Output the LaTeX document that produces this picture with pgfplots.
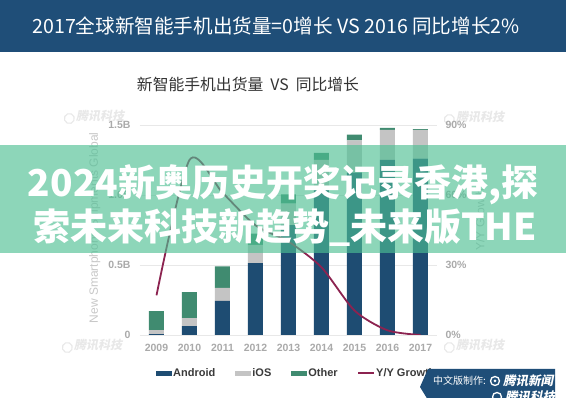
\documentclass[border=0pt]{standalone}
\usepackage{pgfplots}
\pgfplotsset{compat=1.18}
\usepackage{fontspec}
\setmainfont{Liberation Sans}
\newfontfamily\cjk{Noto Sans CJK SC}
\newfontfamily\cjksl{Noto Sans CJK SC}[FakeSlant=0.2]
\definecolor{hdr}{RGB}{31,78,120}
\definecolor{andc}{RGB}{30,76,114}
\definecolor{iosc}{RGB}{196,196,196}
\definecolor{othc}{RGB}{64,139,112}
\definecolor{linec}{RGB}{140,35,80}
\definecolor{gridc}{RGB}{232,232,232}
\definecolor{tickc}{RGB}{170,170,170}
\definecolor{labc}{RGB}{200,200,200}
\definecolor{legc}{RGB}{58,58,58}
\definecolor{bandc}{RGB}{77,192,147}
\definecolor{wmc}{RGB}{232,232,232}
\begin{document}
\begin{tikzpicture}[x=1pt,y=1pt]
\useasboundingbox (0,0) rectangle (566,398);
\fill[white] (0,0) rectangle (566,398);
\fill[hdr] (0,346) rectangle (566,398);
\node[text=white, font=\cjk\fontsize{19.6}{22}\selectfont, inner sep=0pt] at (276,372) {2017全球新智能手机出货量=0增长 VS 2016 同比增长2\%};
\node[text=black!80, font=\cjk\fontsize{15.8}{18}\selectfont, inner sep=0pt] at (248,314) {新智能手机出货量\ \ VS\ \ 同比增长};

% watermarks
\foreach \wx/\wy in {90/287, 470/286, 88/58, 470/58}{
  \begin{scope}[shift={(\wx,\wy)}, rotate=20]
    \draw[wmc, line width=1.1pt] (-22,0) circle (5);
    \node[text=wmc, font=\cjksl\bfseries\fontsize{12}{14}\selectfont, anchor=west, inner sep=0pt] at (-15,0) {腾讯科技};
  \end{scope}
}

\begin{axis}[at={(140pt,63pt)}, anchor=south west, scale only axis,
  width=297pt, height=210pt,
  xmin=-0.5, xmax=8.5, ymin=0, ymax=1.5,
  ybar stacked, bar width=15pt,
  axis line style={draw=none}, tick style={draw=none},
  ymajorgrids, grid style={draw=gridc, line width=0.8pt},
  ytick={0,0.5,1,1.5}, yticklabels={0,0.5B,1.0B,1.5B},
  xtick={0,1,2,3,4,5,6,7,8},
  xticklabels={2009,2010,2011,2012,2013,2014,2015,2016,2017},
  ticklabel style={font=\fontsize{10.5}{12}\selectfont\bfseries, text=tickc},
  yticklabel style={xshift=-6pt},
  xticklabel style={yshift=-6pt},
  ylabel={New Smartphone Shipments Global},
  every axis y label/.style={at={(axis description cs:-0.152,0.51)}, rotate=90, anchor=center, font=\fontsize{12}{14}\selectfont, text=labc},
  legend columns=-1,
  legend style={draw=none, fill=none, inner sep=0pt, at={(axis description cs:0.054,-0.181)}, anchor=west,
    font=\fontsize{11}{12}\selectfont\bfseries, text=legc,
    nodes={inner xsep=1pt},
    /tikz/every even column/.append style={column sep=19pt}},
]
\addplot[fill=andc, draw=none, legend image code/.code={\fill[andc] (0pt,-2.5pt) rectangle (16pt,2.5pt);}]
  coordinates {(0,0.007) (1,0.064) (2,0.243) (3,0.514) (4,0.785) (5,1.059) (6,1.160) (7,1.250) (8,1.260)};
\addplot[fill=iosc, draw=none, legend image code/.code={\fill[iosc] (0pt,-2.5pt) rectangle (16pt,2.5pt);}]
  coordinates {(0,0.028) (1,0.056) (2,0.093) (3,0.130) (4,0.153) (5,0.192) (6,0.231) (7,0.215) (8,0.205)};
\addplot[fill=othc, draw=none, legend image code/.code={\fill[othc] (0pt,-2.5pt) rectangle (16pt,2.5pt);}]
  coordinates {(0,0.135) (1,0.187) (2,0.154) (3,0.080) (4,0.066) (5,0.050) (6,0.040) (7,0.015) (8,0.005)};
\addlegendimage{legend image code/.code={\draw[linec, line width=1.5pt] (0pt,0pt) -- (16pt,0pt);}}
\legend{Android,iOS,Other,Y/Y Growth}
\end{axis}

\begin{axis}[at={(140pt,63pt)}, anchor=south west, scale only axis,
  width=297pt, height=210pt,
  xmin=-0.5, xmax=8.5, ymin=0, ymax=90,
  axis line style={draw=none}, tick style={draw=none},
  xtick=\empty, yticklabel pos=right,
  ytick={0,30,60,90}, yticklabels={0\%,30\%,60\%,90\%},
  ticklabel style={font=\fontsize{10.5}{12}\selectfont\bfseries, text=tickc},
  yticklabel style={xshift=5pt},
  ylabel={Y/Y Growth},
  every axis y label/.style={at={(axis description cs:1.145,0.548)}, rotate=90, anchor=center, font=\fontsize{12}{14}\selectfont, text=labc},
]
\addplot[linec, line width=1.8pt, smooth, tension=0.45]
  coordinates {(0,17) (1,75) (2,61) (3,47) (4,40) (5,29) (6,10.5) (7,2) (8,0)};
\end{axis}

% overlay band
\fill[bandc, fill opacity=0.64] (0,145) rectangle (566,253);
\node[text=white, font=\cjk\bfseries\fontsize{37}{42}\selectfont, inner sep=0pt] at (283,213) {2024新奥历史开奖记录香港,探};
\node[text=white, font=\cjk\bfseries\fontsize{37}{42}\selectfont, inner sep=0pt] at (285,170) {索未来科技新趋势\_未来版THE};

% badge
\fill[hdr] (428,29) -- (555,29) -- (555,-2) -- (428,-2) -- (420,11) -- cycle;
\node[text=white, font=\cjk\fontsize{10}{12}\selectfont, inner sep=0pt, anchor=west] at (433,17) {中文版制作:};
\draw[white, line width=1.3pt] (495,17) circle (4.5);
\fill[white] (495,17) circle (1.5);
\node[text=white, font=\cjksl\bfseries\fontsize{12.5}{14}\selectfont, inner sep=0pt, anchor=west] at (503,17) {腾讯新闻};
\draw[white, line width=1.3pt] (497,1) circle (4.5);
\node[text=white, font=\cjksl\bfseries\fontsize{12.5}{14}\selectfont, inner sep=0pt, anchor=west] at (505,1) {腾讯科技};
\end{tikzpicture}
\end{document}
